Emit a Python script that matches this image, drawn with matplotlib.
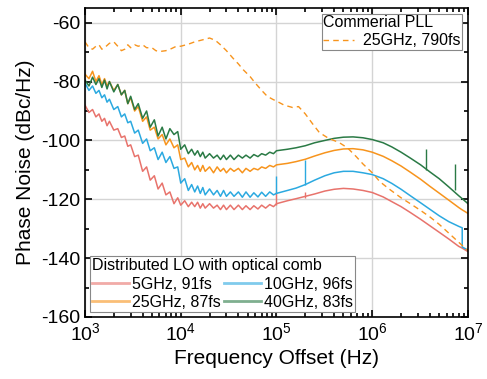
import numpy as np
import matplotlib
matplotlib.use('Agg')
import matplotlib.pyplot as plt
from matplotlib.ticker import LogLocator, LogFormatterMathtext, MultipleLocator, NullFormatter

# 频率点（Hz）
freq = [1000, 1100, 1200, 1300, 1400, 1500, 1600, 1700, 1800, 2000, 2200, 2400, 2600, 2800,
        3000, 3300, 3600, 4000, 4400, 4800, 5300, 5800, 6400, 7000, 7700, 8500, 9300,
        10000, 11000, 12000, 13000, 14000, 15000, 16000, 17000, 18000, 20000, 22000, 24000,
        26000, 28000, 30000, 33000, 36000, 40000, 44000, 48000, 53000, 58000, 64000, 70000,
        77000, 85000, 93000,
        1e5, 1.3e5, 1.6e5, 2e5, 2.5e5, 3.2e5, 4e5, 5e5, 6.3e5, 8e5, 1e6, 1.3e6, 1.6e6, 2e6,
        2.5e6, 3.2e6, 4e6, 5e6, 6.3e6, 8e6, 8.7e6, 8.7e6, 1e7]

pn_5g = [-88, -90.5, -89.5, -92, -91, -93.5, -92.5, -95, -93.5, -96.5, -96, -99, -98.5, -102,
         -101.5, -105.5, -105, -110.5, -109, -113.5, -112, -116.5, -114.5, -118.5, -117.5, -121.5, -119.5,
         -122, -120.5, -122.5, -121, -122.5, -121, -123, -121.5, -123, -121.5, -123, -122,
         -123.5, -122, -123.5, -122, -123.5, -122, -123.5, -122.2, -123.5, -122.2, -123.3, -122,
         -123, -121.8, -122.5,
         -121.5, -120.5, -119.8, -119, -118.2, -117.2, -116.6, -116.3, -116.5, -117, -117.7, -119.2,
         -120.8, -122.5, -124.5, -126.8, -129, -131.2, -133.5, -136, -136.6, -136.6, -137.8]

pn_10g = [-80.5, -83, -81.5, -84, -83, -85.5, -84.5, -87, -86, -89.5, -88.5, -92, -91, -94,
          -93.5, -97.5, -96.5, -101, -99.5, -103.5, -102.5, -106.5, -104, -107.5, -105.5, -109.5, -109,
          -114.5, -113, -117, -115, -117.5, -115.5, -118, -116, -118.5, -116.5, -118.5, -117,
          -119, -117, -119, -117.5, -119, -117.5, -119.3, -117.5, -119.3, -117.8, -119.2, -117.6,
          -119, -117.5, -118.5,
          -118, -117, -116.2, -115, -113.5, -112, -111, -110.5, -110.5, -111, -111.6, -113,
          -114.6, -116.6, -118.8, -121.2, -123.4, -125.6, -127.6, -129.2, -129.7, -136.2, -137.3]

pn_25g = [-77.5, -79, -76.5, -80, -78, -81, -79, -81.5, -80, -83, -81, -84.5, -83, -87.5,
          -85.5, -90, -88.5, -93.5, -92, -96.5, -95.5, -99.5, -98, -101.5, -99.5, -102.5, -101.5,
          -106.5, -106, -109, -107.5, -110, -108.5, -110.5, -108.5, -110.5, -109, -111, -109,
          -110.5, -109.5, -111, -109.5, -110.5, -109.5, -111, -109.5, -110.5, -109.5, -110, -109,
          -109.5, -108.5, -109,
          -108.3, -107.8, -107.2, -106.4, -105.3, -104.2, -103.4, -102.9, -102.8, -103.2, -104, -105.4,
          -106.9, -108.7, -110.8, -113.2, -115.6, -117.9, -120.3, -122.8, -123.6, -123.6, -124.8]

pn_40g = [-79.5, -81.5, -78.5, -81, -79, -82, -79.5, -82.5, -80, -83.5, -81, -84.5, -83, -87.5,
          -85, -89.5, -87.5, -92.5, -90, -95.5, -93, -98.5, -95.5, -99.5, -96, -98, -97,
          -103, -101.5, -104.5, -103, -105, -103.5, -105.5, -104, -106, -104.5, -106, -105,
          -106.5, -105, -106.5, -105, -106.5, -105, -106, -105, -106, -104.8, -105.5, -104.5,
          -105, -104, -104.5,
          -103.5, -103, -102.5, -101.8, -100.8, -100, -99.3, -98.9, -98.8, -99.1, -99.7, -100.8,
          -102.2, -104, -106, -108.3, -110.7, -113, -115.8, -118.8, -119.8, -119.8, -121.5]

# 商用PLL
freq_pll = [1000, 1100, 1200, 1300, 1400, 1500, 1600, 1800, 2000, 2200, 2400, 2600, 2800, 3000,
            3300, 3600, 4000, 4400, 5000, 5500, 6000, 7000, 8000, 9000, 10000, 12000, 14000, 17000,
            20000, 23000, 26000, 30000, 35000, 40000, 45000, 53000, 60000, 70000, 80000, 91000,
            1.05e5, 1.2e5, 1.47e5, 1.7e5, 2e5, 2.4e5, 2.8e5, 3.5e5, 4.5e5, 5.5e5, 6.8e5, 8e5,
            1e6, 1.2e6, 1.5e6, 2e6, 2.5e6, 3.2e6, 4e6, 5e6, 6.3e6, 8e6, 1e7]
pn_pll = [-66.5, -68.5, -69, -68, -67.5, -69, -68.5, -67, -66.5, -68, -69.5, -69, -67.5, -68.5,
          -67.5, -68, -67.5, -68.5, -68.5, -69.5, -69.8, -69.5, -68.8, -68, -68, -67.3, -66.5, -65.8,
          -65.2, -66, -67.5, -69.5, -72, -74, -76, -78.3, -80.5, -83, -85, -86,
          -87, -88, -88.8, -88.5, -91, -94.5, -97.3, -99.3, -100.7, -102.5, -105.5, -108,
          -111, -114, -116.5, -119.5, -121.5, -123.8, -126, -128.5, -131.5, -134.6, -137.5]

# 杂散（频率，底部，顶部）
spur_5g = [(1e5, -122, -117.6), (2e5, -119.4, -117.6)]
spur_10g = [(1e5, -118, -112), (2e5, -115, -106.5)]
spur_40g = [(3.6e6, -110, -103), (7.3e6, -117, -108)]

labels = ['5GHz, 91fs', '10GHz, 96fs', '25GHz, 87fs', '40GHz, 83fs']
colors = ['#E8736C', '#2BA9E0', '#F7941D', '#2A7A45']

plt.rcParams['font.family'] = ['Liberation Sans', 'DejaVu Sans']
plt.rcParams['mathtext.default'] = 'regular'
plt.rcParams['axes.unicode_minus'] = False

fig = plt.figure(figsize=(4.87, 3.79), dpi=100)
ax = fig.add_axes([0.1745, 0.1636, 0.7865, 0.8153])

series = [pn_5g, pn_10g, pn_25g, pn_40g]
spurs = [spur_5g, spur_10g, None, spur_40g]
lines = []
for i in range(4):
    ln, = ax.plot(freq, series[i], color=colors[i], lw=1.1, label=labels[i])
    lines.append(ln)
    if spurs[i] is not None:
        for f, lo, hi in spurs[i]:
            ax.vlines(f, lo, hi, color=colors[i], lw=1.0)

pll_line, = ax.plot(freq_pll, pn_pll, color='#F7941D', lw=1.0, linestyle=(0, (4, 3)),
                    label='25GHz, 790fs')

ax.set_xscale('log')
ax.set_xlim(1e3, 1e7)
ax.set_ylim(-160, -55)

ax.xaxis.set_major_locator(LogLocator(base=10, numticks=10))
ax.xaxis.set_major_formatter(LogFormatterMathtext())
ax.xaxis.set_minor_locator(LogLocator(base=10, subs=np.arange(2, 10), numticks=20))
ax.xaxis.set_minor_formatter(NullFormatter())
ax.yaxis.set_major_locator(MultipleLocator(20))
ax.yaxis.set_minor_locator(MultipleLocator(10))

ax.grid(True, which='major', color='#d4d4d4', lw=1.0)
ax.set_axisbelow(True)

ax.tick_params(which='both', direction='in', top=True, right=True, labelsize=14, width=1.2)
ax.tick_params(which='major', length=5)
ax.tick_params(which='minor', length=3)
for sp in ax.spines.values():
    sp.set_linewidth(1.2)

ax.set_xlabel('Frequency Offset (Hz)', fontsize=15)
ax.set_ylabel('Phase Noise (dBc/Hz)', fontsize=15)

# 两个图例
leg1 = ax.legend(handles=[pll_line], loc='upper right', title='Commerial PLL', fontsize=11.5,
                 title_fontsize=11.5, fancybox=False, edgecolor='#888888', framealpha=1,
                 alignment='left', handlelength=1.9, handletextpad=0.6, borderpad=0.1,
                 labelspacing=0.2, borderaxespad=0.35)
leg1.get_frame().set_linewidth(0.8)
ax.add_artist(leg1)

# 按行排列：5G | 10G，25G | 40G
leg_handles = [lines[0], lines[2], lines[1], lines[3]]
leg2 = ax.legend(handles=leg_handles, loc='lower left', ncol=2,
                 title='Distributed LO with optical comb',
                 fontsize=11.5, title_fontsize=11.5, fancybox=False, edgecolor='#888888',
                 framealpha=1, alignment='left', handlelength=2.3, borderpad=0.15,
                 labelspacing=0.2, columnspacing=0.2, handletextpad=0.2, borderaxespad=0.3)
leg2.get_frame().set_linewidth(0.8)
for ln in leg2.get_lines():
    ln.set_alpha(0.6)
    ln.set_linewidth(2.0)

fig.savefig('out.png', dpi=100)
